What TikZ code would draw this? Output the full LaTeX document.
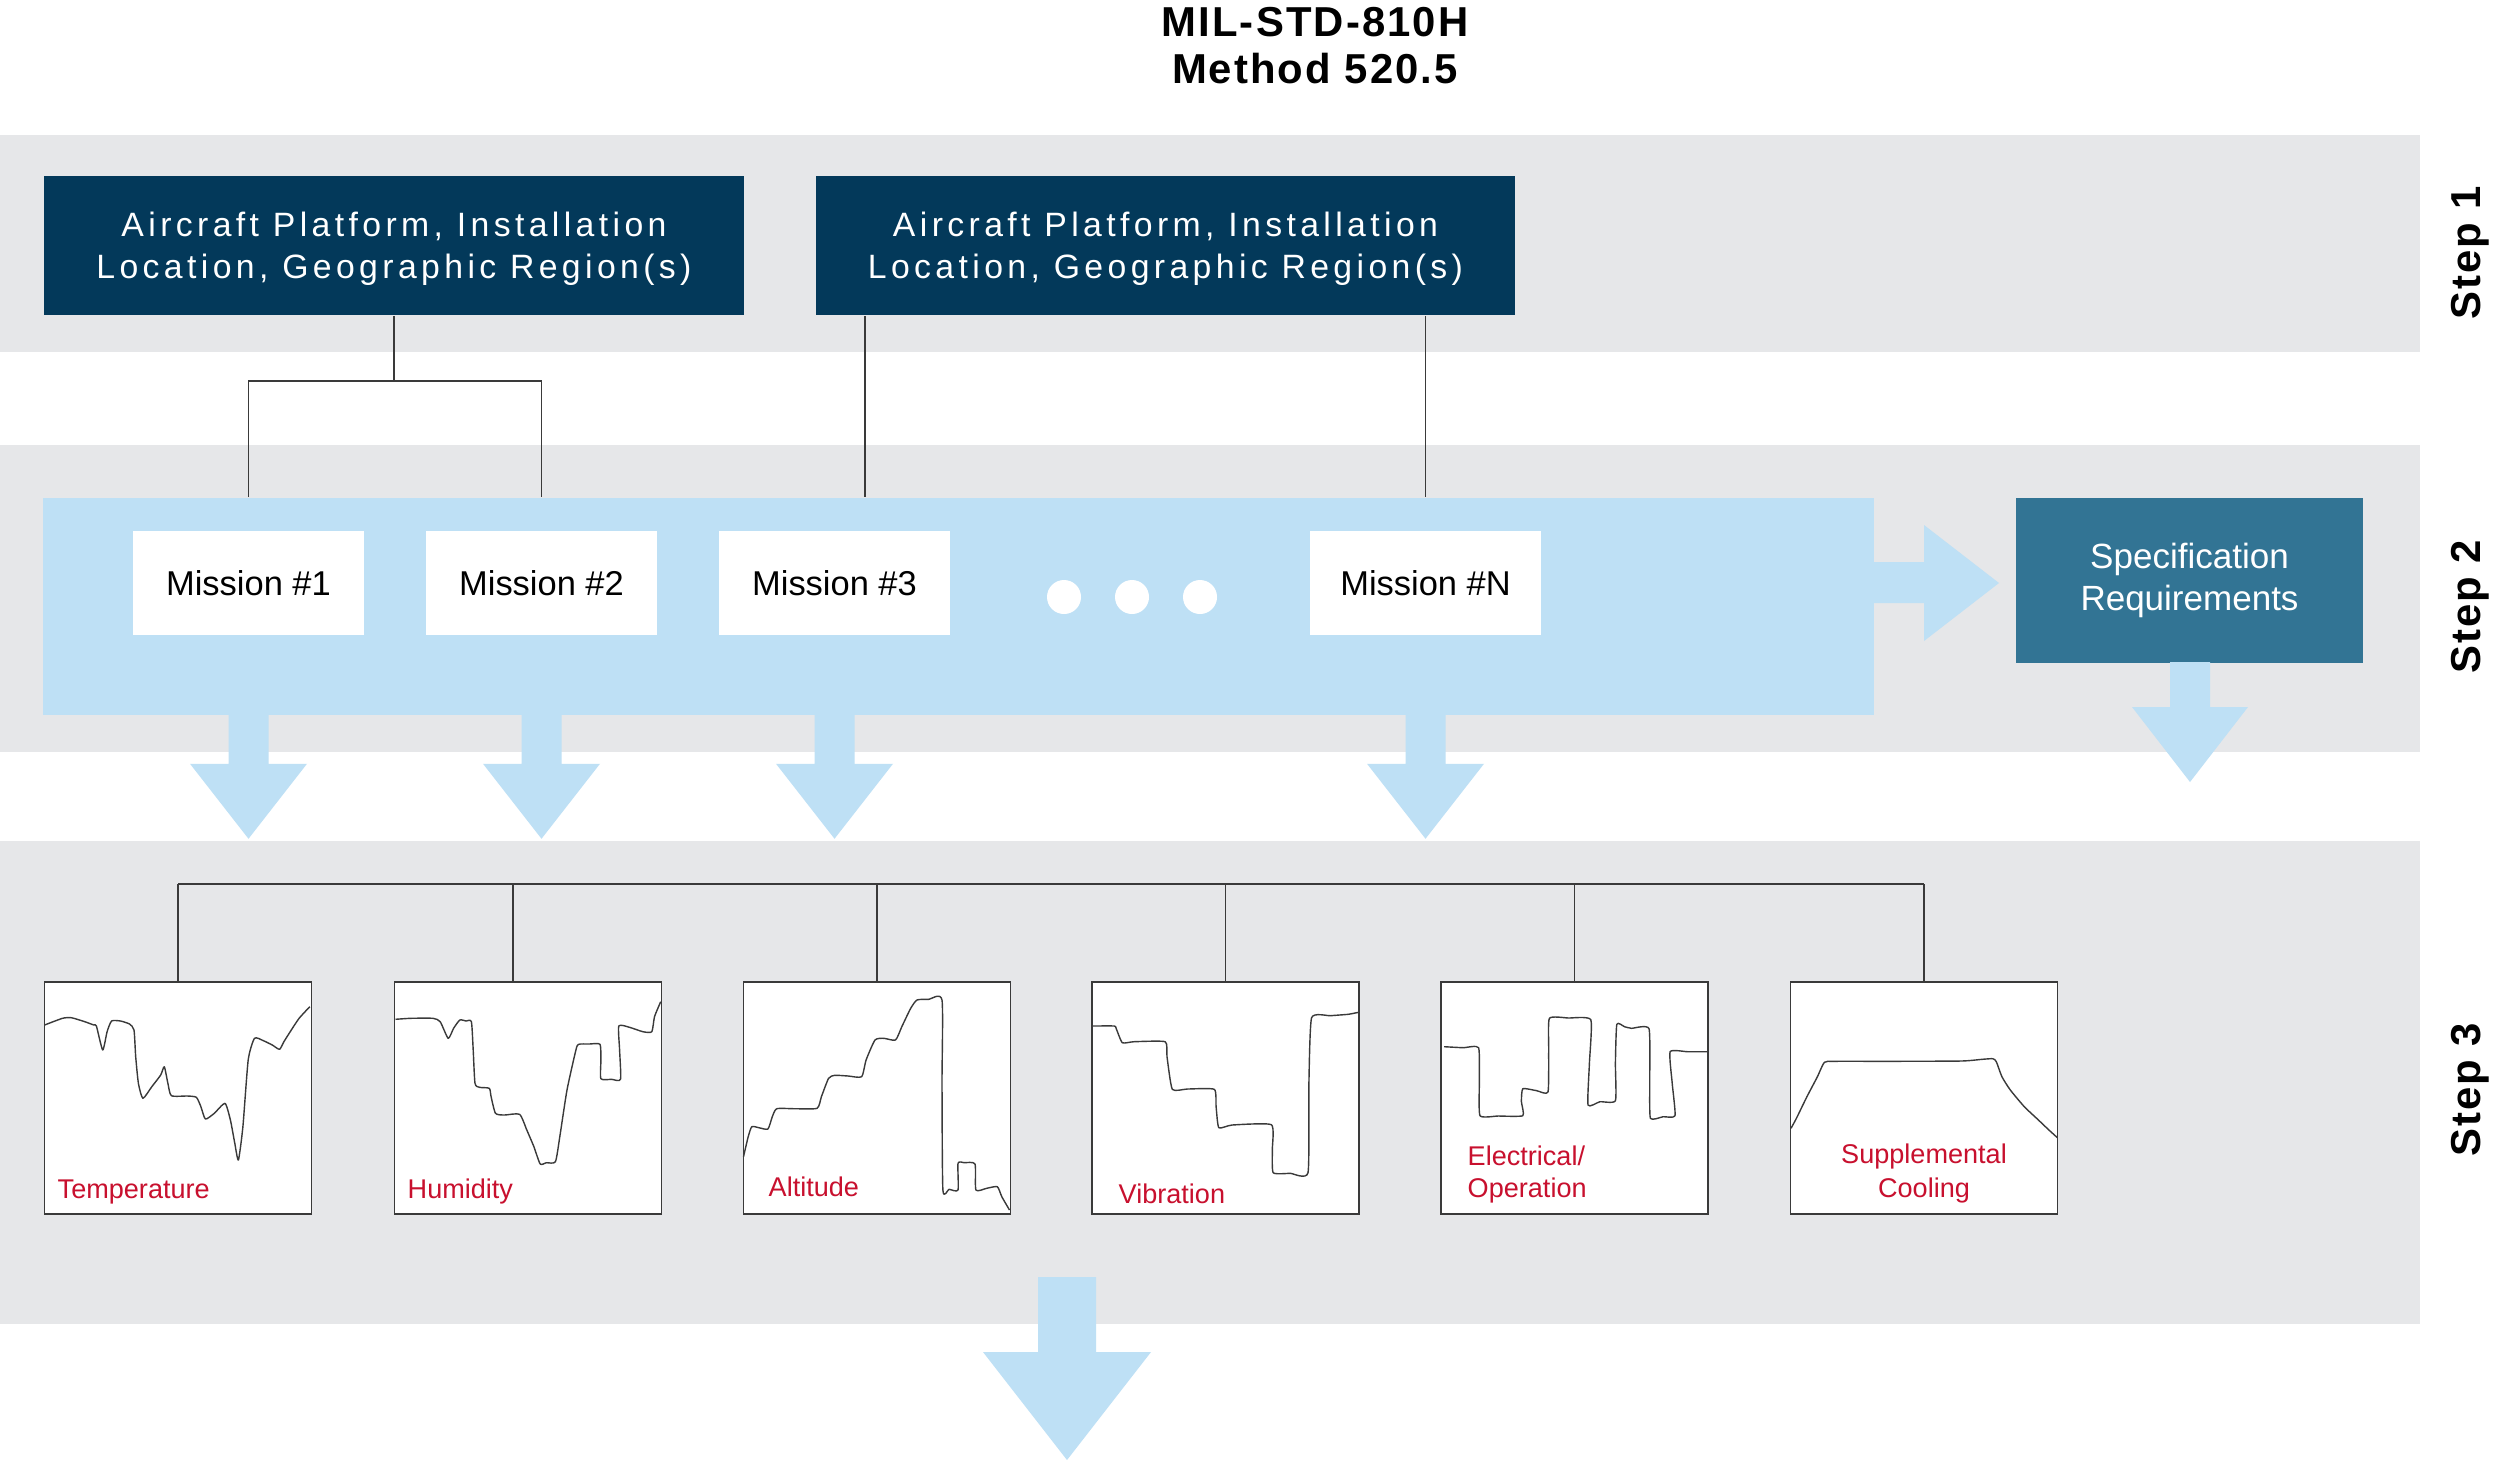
\documentclass[tikz,border=0pt]{standalone}
\usepackage{fontspec}
\setmainfont{Liberation Sans}
\newfontfamily\spacedfont[LetterSpace=13]{Liberation Sans}
\newfontfamily\boldspaced[LetterSpace=5]{Liberation Sans}
\definecolor{bandgray}{HTML}{E6E7E9}
\definecolor{lightblue}{HTML}{BEE0F5}
\definecolor{navy}{HTML}{03395A}
\definecolor{specblue}{HTML}{327494}
\definecolor{labelred}{HTML}{C8102E}
\definecolor{linegray}{HTML}{3A3A3A}
\tikzset{
  band/.style={fill=bandgray, draw=none},
  navybox/.style={fill=navy, minimum width=6.99cm, minimum height=1.39cm, inner sep=0pt},
  navytext/.style={text=white, inner sep=0pt, align=center,
    font=\spacedfont\fontsize{9.6pt}{12pt}\selectfont},
  missionbox/.style={fill=white, minimum width=2.31cm, minimum height=1.04cm, inner sep=0pt,
    font=\fontsize{9.8pt}{12pt}\selectfont},
  specbox/.style={fill=specblue, text=white, minimum width=3.47cm, minimum height=1.65cm, inner sep=0pt, align=center,
    font=\fontsize{9.96pt}{12pt}\selectfont},
  graphbox/.style={fill=white, draw=linegray, line width=0.45pt, minimum width=2.67cm, minimum height=2.32cm, inner sep=0pt},
  conn/.style={draw=linegray, line width=0.4pt},
  curve/.style={draw=linegray, line width=0.4pt, line join=round},
  glabel/.style={text=labelred, inner sep=0pt, font=\fontsize{7.7pt}{9.4pt}\selectfont},
  steplabel/.style={rotate=90, inner sep=0pt, font=\boldspaced\bfseries\fontsize{11.9pt}{13.4pt}\selectfont},
  dotmark/.style={circle, fill=white, minimum size=0.34cm, inner sep=0pt},
  bigarrow/.style={fill=lightblue, draw=none}
}
\begin{document}
\begin{tikzpicture}[x=0.01cm, y=-0.01cm]
\useasboundingbox[fill=white] (0,0) rectangle (2500,1460);

% title
\node[align=center, inner sep=0pt, font=\boldspaced\bfseries\fontsize{11.9pt}{13.4pt}\selectfont] (title) at (1315,46) {MIL-STD-810H\\Method 520.5};

% bands
\fill[band] (0,135) rectangle (2420,352);
\fill[band] (0,445) rectangle (2420,752);
\fill[band] (0,841) rectangle (2420,1324);

% step labels
\node[steplabel] (s1) at (2470,253) {Step 1};
\node[steplabel] (s2) at (2470,607) {Step 2};
\node[steplabel] (s3) at (2470,1090) {Step 3};

% step 1 boxes
\node[navybox] (d1) at (394,245.5) {};
\node[navytext] (d1t) at (394,249) {Aircraft Platform, Installation\\Location, Geographic Region(s)};
\node[navybox] (d2) at (1165.5,245.5) {};
\node[navytext] (d2t) at (1165.5,249) {Aircraft Platform, Installation\\Location, Geographic Region(s)};

% step 2 mission bar
\node[fill=lightblue, minimum width=18.29cm, minimum height=2.17cm, inner sep=0pt] (mbar) at (958.5,606.5) {};
\node[missionbox] (m1) at (248.5,583) {Mission \#1};
\node[missionbox] (m2) at (541.5,583) {Mission \#2};
\node[missionbox] (m3) at (834.5,583) {Mission \#3};
\node[missionbox] (m4) at (1425.5,583) {Mission \#N};
\node[dotmark] (dot1) at (1064,597) {};
\node[dotmark] (dot2) at (1132,597) {};
\node[dotmark] (dot3) at (1200,597) {};

% connectors step1 -> step2
\coordinate (j1) at (394,381);
\coordinate (k2) at (865,0);
\draw[conn] (d1.south) -- (j1);
\draw[conn] (mbar.north -| m1) |- (j1) -| (mbar.north -| m2);
\draw[conn] (d2.south -| k2) -- (mbar.north -| k2);
\draw[conn] (d2.south -| m4) -- (mbar.north -| m4);

% arrows from mission bar
\foreach \m in {m1,m2,m3,m4}{
  \fill[bigarrow] (\m |- mbar.south) ++(-20,-1) -- ++(0,49) -- ++(-38.5,0) -- ++(58.5,75) -- ++(58.5,-75) -- ++(-38.5,0) -- ++(0,-49) -- cycle;
}
\fill[bigarrow] (1872,562) -- (1924,562) -- (1924,525) -- (1999,583) -- (1924,641) -- (1924,603) -- (1872,603) -- cycle;

% specification
\node[specbox] (spec) at (2189.5,580.5) {Specification\\Requirements};
\fill[bigarrow] (2170,662) -- (2170,707) -- (2132,707) -- (2190,782) -- (2248,707) -- (2210,707) -- (2210,662) -- cycle;

% step 3 graph boxes
\node[graphbox] (g1) at (178,1098) {};
\node[graphbox] (g2) at (528,1098) {};
\node[graphbox] (g3) at (877,1098) {};
\node[graphbox] (g4) at (1225.5,1098) {};
\node[graphbox] (g5) at (1574.5,1098) {};
\node[graphbox] (g6) at (1924,1098) {};

\coordinate (tr) at (0,884);
\coordinate (k5) at (513,0);
\draw[conn] (g1.north |- tr) -- (g6.north |- tr);
\draw[conn] (g1.north) -- (g1.north |- tr);
\draw[conn] (g2.north -| k5) -- (tr -| k5);
\draw[conn] (g3.north) -- (g3.north |- tr);
\draw[conn] (g4.north) -- (g4.north |- tr);
\draw[conn] (g5.north) -- (g5.north |- tr);
\draw[conn] (g6.north) -- (g6.north |- tr);

% curves
\draw[curve] plot[smooth, tension=0.35] coordinates {(44.6,1025) (62.5,1018.3) (71.4,1017.7) (84.8,1021.7) (93.75,1025) (96.4,1026) (102.7,1050) (107.1,1031.7) (111.6,1021) (120.5,1021) (129.5,1024) (134,1030) (135.7,1056.7) (138.4,1083.3) (142.9,1098.3) (151.8,1086.7) (160.7,1075) (164.3,1066.7) (167.9,1083.3) (171.4,1095.7) (187.5,1096) (196.4,1097.3) (200.9,1106.7) (205.4,1119) (214.3,1113.3) (225,1103.3) (230.4,1120) (234.8,1143.3) (238.4,1160) (242.9,1126.7) (248.2,1060) (254.5,1038.3) (263.4,1040.7) (272.3,1045) (279.5,1049.3) (283.9,1041.7) (290.2,1031.7) (299.1,1018.3) (309.8,1006.7)};

\draw[curve] plot[smooth, tension=0.35] coordinates {(395.5,1019.3) (410.7,1018.3) (433,1018.3) (440.2,1021.7) (448.2,1038.3) (453.6,1028.3) (459.8,1020) (466.1,1021) (471.4,1021.7) (473.2,1050) (475,1083.3) (479.5,1087.3) (489.3,1088.3) (491.1,1096.7) (495.5,1113.3) (504.5,1115) (519.6,1114.3) (526.8,1130) (533.9,1146.7) (540.2,1164) (546.4,1162.7) (555.4,1161.7) (559.8,1136.7) (567,1090) (575.9,1050) (578.6,1044.3) (589.3,1044) (600,1044.3) (600.9,1060) (600.9,1078.7) (611.6,1079.3) (620.5,1079.3) (619.6,1050) (618.8,1026) (629.5,1027.3) (642.9,1031.7) (651.8,1031.7) (654.5,1016.7) (660.7,1001.7)};

\draw[curve] plot[smooth, tension=0.35] coordinates {(743.5,1156.7) (748.2,1136.7) (751.8,1126.7) (758.9,1127.7) (767.9,1129) (772.3,1116.7) (776.8,1108.7) (794.6,1108.7) (817,1108.3) (821.4,1096.7) (828.6,1078.3) (834.8,1075.3) (848.2,1076) (861.6,1076.7) (866.1,1060) (875,1040) (883.9,1038.3) (895.5,1040) (901.8,1026.7) (910.7,1008.3) (917,1000) (928.6,999.3) (942,1000) (942,1083.3) (942.9,1190) (949.1,1189.3) (958,1190) (958,1163.3) (964.3,1162.7) (975,1164) (975.9,1190) (986.6,1188.3) (997.3,1186.7) (1001.8,1196.7) (1009.5,1210)};

\draw[curve] plot[smooth, tension=0.3] coordinates {(1092.9,1026) (1114.3,1026) (1116.1,1028.3) (1122.3,1042.7) (1133.9,1041.7) (1165.2,1041.7) (1167,1056.7) (1172.3,1089.3) (1187.5,1089) (1214.3,1089.3) (1216.1,1106.7) (1218.8,1127.7) (1232.1,1125) (1271.4,1124.7) (1272.3,1150) (1273.2,1172.7) (1290.2,1173.3) (1308,1172.7) (1308.9,1083.3) (1311.6,1017.7) (1330.4,1015.7) (1348.2,1014.3) (1358.5,1012.3)};

\draw[curve] plot[smooth, tension=0.3] coordinates {(1444.2,1046.7) (1463.1,1047.7) (1478.6,1047.7) (1479.3,1083.3) (1480,1115.7) (1498.2,1116) (1522.8,1115.7) (1521.4,1101.7) (1522.8,1088.7) (1536.8,1090.7) (1548,1092) (1548.7,1050) (1549.4,1018.3) (1568.4,1018) (1590.8,1019.7) (1589.4,1063.3) (1588,1105) (1599.9,1101.7) (1615.4,1100.7) (1615.4,1063.3) (1616.8,1024.3) (1624.5,1026.7) (1631.5,1028.3) (1649,1028.7) (1649.7,1083.3) (1650.4,1118.3) (1663.1,1116.7) (1675,1115.7) (1672.2,1083.3) (1670.1,1051.7) (1687.6,1051.7) (1708,1051.7)};

\draw[curve] plot[smooth, tension=0.35] coordinates {(1791,1128.3) (1796.4,1118.3) (1806.9,1096.7) (1817.4,1076.7) (1824.4,1062.3) (1834.9,1061.3) (1891,1061.3) (1961.2,1061) (1982.2,1059.3) (1992.8,1058.7) (1996.3,1061.7) (2001.9,1076.7) (2010.3,1090) (2024.3,1106.7) (2038.4,1120) (2048.9,1130) (2057.4,1137.7)};

% graph labels
\node[glabel, anchor=base west] (l1) at (57,1198) {Temperature};
\node[glabel, anchor=base west] (l2) at (407,1198) {Humidity};
\node[glabel, anchor=base west] (l3) at (768,1196) {Altitude};
\node[glabel, anchor=base west] (l4) at (1118,1203) {Vibration};
\node[glabel, anchor=base west] (l5a) at (1467,1165) {Electrical/};
\node[glabel, anchor=base west] (l5b) at (1467,1197) {Operation};
\node[glabel, anchor=base] (l6a) at (1924,1163) {Supplemental};
\node[glabel, anchor=base] (l6b) at (1924,1197) {Cooling};

% bottom arrow
\fill[bigarrow] (1038,1277) -- (1038,1352) -- (983,1352) -- (1067,1460) -- (1151,1352) -- (1096,1352) -- (1096,1277) -- cycle;
\end{tikzpicture}
\end{document}
